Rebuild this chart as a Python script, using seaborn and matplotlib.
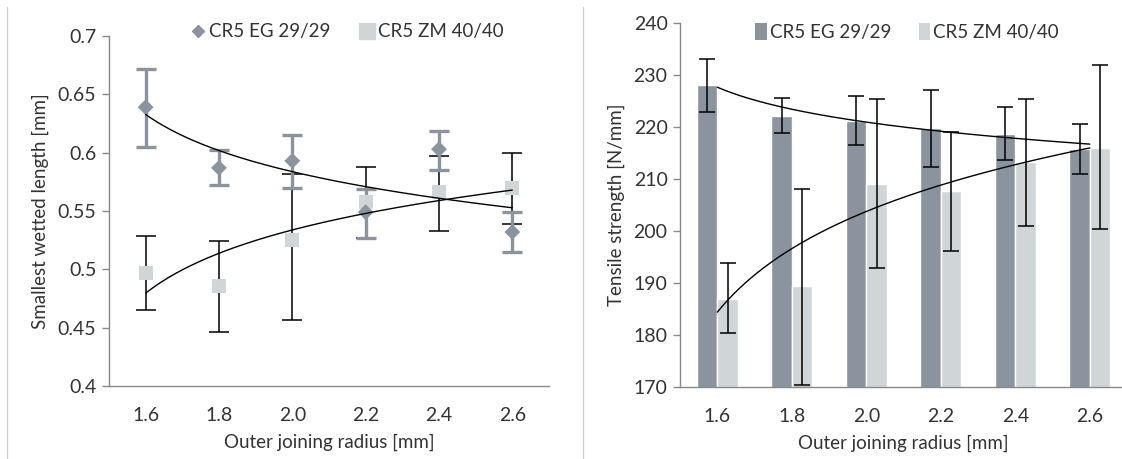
import numpy as np
import pandas as pd
import matplotlib
matplotlib.use("Agg")
import matplotlib.pyplot as plt
from matplotlib.lines import Line2D
from matplotlib.patches import Patch
import seaborn as sns

radius = ["1.6", "1.8", "2.0", "2.2", "2.4", "2.6"]
series = ["CR5 EG 29/29", "CR5 ZM 40/40"]

# smallest wetted length [mm]
wet_eg = [0.639, 0.587, 0.593, 0.549, 0.603, 0.532]
wet_eg_lo = [0.605, 0.572, 0.570, 0.527, 0.585, 0.515]
wet_eg_hi = [0.672, 0.602, 0.615, 0.569, 0.619, 0.549]
wet_zm = [0.497, 0.486, 0.525, 0.558, 0.566, 0.570]
wet_zm_lo = [0.465, 0.446, 0.457, 0.527, 0.533, 0.539]
wet_zm_hi = [0.529, 0.524, 0.582, 0.588, 0.597, 0.600]

# tensile strength [N/mm]
ten_eg = [228.1, 222.1, 221.2, 219.9, 218.7, 215.7]
ten_eg_lo = [222.8, 218.8, 216.6, 212.4, 213.6, 211.0]
ten_eg_hi = [233.1, 225.5, 226.0, 227.2, 223.8, 220.6]
ten_zm = [187.0, 189.4, 209.0, 207.6, 213.3, 216.0]
ten_zm_lo = [180.3, 170.4, 192.9, 196.1, 201.0, 200.3]
ten_zm_hi = [193.8, 208.0, 225.4, 219.0, 225.3, 231.9]

c_eg = "#8a939e"
c_zm = "#d0d6d8"
spine = "#898989"
txt = "#333333"

sns.set_style("white")
plt.rcParams["font.family"] = ["Lato", "DejaVu Sans"]

fig = plt.figure(figsize=(11.22, 4.59), dpi=100)
axl = fig.add_axes([0.0971, 0.159, 0.3922, 0.7625])
axr = fig.add_axes([0.6061, 0.1569, 0.3984, 0.793])

pos = np.arange(len(radius))


def log_trend(ax, y, lw=1.0):
    # excel style logarithmic trendline on category index 1..n
    k = np.arange(1, len(y) + 1)
    a, b = np.polyfit(np.log(k), y, 1)
    xs = np.linspace(1, len(y), 200)
    ax.plot(xs - 1, a * np.log(xs) + b, color="black", lw=lw, zorder=6)


def err(vals, lo, hi):
    v = np.array(vals)
    return [v - np.array(lo), np.array(hi) - v]


def style_axis(ax, ylim, yticks, ylabels, ylabel):
    ax.set_xlim(-0.5, 5.5)
    ax.set_ylim(*ylim)
    ax.set_yticks(yticks)
    ax.set_yticklabels(ylabels)
    ax.set_xticks(pos)
    ax.set_xticklabels(radius)
    ax.set_xticks(np.arange(-0.5, 6.0, 1.0), minor=True)
    ax.tick_params(axis="x", which="major", length=0, pad=15, labelsize=14, labelcolor=txt)
    ax.tick_params(axis="x", which="minor", length=5, width=1, color=spine, direction="out")
    ax.tick_params(axis="y", length=5, width=1, color=spine, direction="out", pad=4,
                   labelsize=14, labelcolor=txt, left=True)
    for s in ["top", "right"]:
        ax.spines[s].set_visible(False)
    for s in ["left", "bottom"]:
        ax.spines[s].set_color(spine)
        ax.spines[s].set_linewidth(1)
    ax.set_xlabel("Outer joining radius [mm]", fontsize=13.5, color=txt, labelpad=7)
    ax.set_ylabel(ylabel, fontsize=13.5, color=txt, labelpad=6)


# left panel
dl_eg = pd.DataFrame({"pos": pos, "val": wet_eg})
dl_zm = pd.DataFrame({"pos": pos, "val": wet_zm})
axl.errorbar(pos, wet_zm, yerr=err(wet_zm, wet_zm_lo, wet_zm_hi), fmt="none",
             ecolor="black", elinewidth=1.1, capsize=7, capthick=1.1, zorder=2)
axl.errorbar(pos, wet_eg, yerr=err(wet_eg, wet_eg_lo, wet_eg_hi), fmt="none",
             ecolor=c_eg, elinewidth=2.4, capsize=7, capthick=2.4, zorder=3)
sns.scatterplot(data=dl_zm, x="pos", y="val", marker="s", color=c_zm, s=100,
                edgecolor="none", ax=axl, zorder=4)
sns.scatterplot(data=dl_eg, x="pos", y="val", marker="D", color=c_eg, s=65,
                edgecolor="none", ax=axl, zorder=4)
log_trend(axl, wet_eg)
log_trend(axl, wet_zm)
style_axis(axl, (0.4, 0.7), np.arange(0.4, 0.701, 0.05),
           ["0.4", "0.45", "0.5", "0.55", "0.6", "0.65", "0.7"],
           "Smallest wetted length [mm]")
hl = [Line2D([], [], marker="D", ls="none", color=c_eg, ms=6),
      Line2D([], [], marker="s", ls="none", color=c_zm, ms=11)]
axl.legend(hl, series, loc="center", bbox_to_anchor=(0.54, 1.012), ncol=2, frameon=False,
           fontsize=13.5, handletextpad=0.15, columnspacing=1.5, labelcolor=txt,
           handlelength=0.9)

# right panel
dr = pd.DataFrame({"radius": radius * 2,
                   "val": ten_eg + ten_zm,
                   "series": [series[0]] * 6 + [series[1]] * 6})
sns.barplot(data=dr, x="radius", y="val", hue="series", order=radius, hue_order=series,
            palette=[c_eg, c_zm], width=0.55, errorbar=None, saturation=1,
            ax=axr, legend=False, zorder=1)
off = 0.55 / 4
axr.errorbar(pos - off, ten_eg, yerr=err(ten_eg, ten_eg_lo, ten_eg_hi), fmt="none",
             ecolor="black", elinewidth=1.1, capsize=5.5, capthick=1.1, zorder=3)
axr.errorbar(pos + off, ten_zm, yerr=err(ten_zm, ten_zm_lo, ten_zm_hi), fmt="none",
             ecolor="black", elinewidth=1.1, capsize=5.5, capthick=1.1, zorder=3)
log_trend(axr, ten_eg)
log_trend(axr, ten_zm)
style_axis(axr, (170, 240), np.arange(170, 241, 10),
           [str(v) for v in range(170, 241, 10)], "Tensile strength [N/mm]")
hr = [Patch(facecolor=c_eg, edgecolor="none"), Patch(facecolor=c_zm, edgecolor="none")]
axr.legend(hr, series, loc="center", bbox_to_anchor=(0.508, 0.975), ncol=2, frameon=False,
           fontsize=13.5, handletextpad=0.15, columnspacing=1.5, labelcolor=txt,
           handlelength=0.6, handleheight=1.0)

# thin separators between the two panels
for xp in [7 / 1122, 583 / 1122]:
    fig.add_artist(Line2D([xp, xp], [0, 1 - 7 / 459], color="#d0d0d0", lw=1,
                          transform=fig.transFigure))

fig.savefig("out.png", dpi=100)
